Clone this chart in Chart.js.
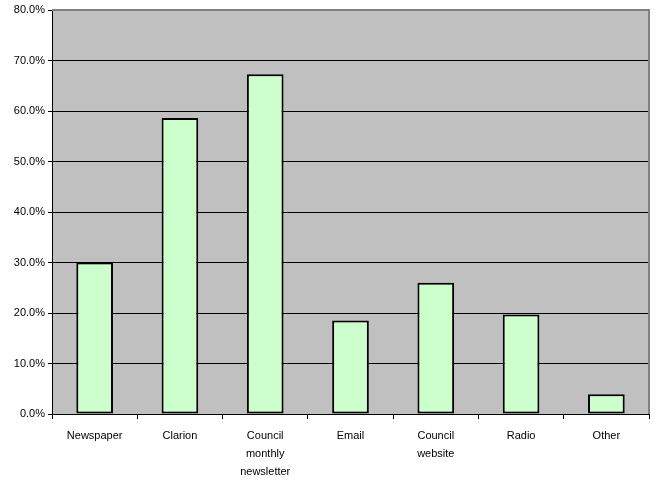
<!DOCTYPE html>
<html>
<head>
<meta charset="utf-8">
<script src="https://cdn.jsdelivr.net/npm/chart.js@4/dist/chart.umd.min.js"></script>
<style>
    html, body { margin: 0; padding: 0; background: #fff; }
    #wrap { width: 657px; height: 479px; }
</style>
</head>
<body>
<div id="wrap"><canvas id="chart"></canvas></div>
<script>
const categories = ["Newspaper", "Clarion", ["Council", "monthly", "newsletter"], "Email", ["Council", "website"], "Radio", "Other"];
const shares = [30.0, 58.6, 67.3, 18.5, 26.0, 19.7, 3.9];
const yTicks = [0, 10, 20, 30, 40, 50, 60, 70, 80];

// grey plot area with the darker top/right frame
const plotFrame = {
    id: "plotFrame",
    beforeDraw(chart) {
        const { ctx, chartArea: a } = chart;
        ctx.save();
        ctx.fillStyle = "#C0C0C0";
        ctx.fillRect(a.left, a.top, a.right - a.left, a.bottom - a.top);
        ctx.restore();
    },
    afterDatasetsDraw(chart) {
        const { ctx, chartArea: a } = chart;
        ctx.save();
        ctx.strokeStyle = "#808080";
        ctx.lineWidth = 2;
        ctx.beginPath();
        ctx.moveTo(a.left, a.top);
        ctx.lineTo(a.right, a.top);
        ctx.lineTo(a.right, a.bottom);
        ctx.stroke();
        ctx.restore();
    }
};

new Chart(document.getElementById("chart"), {
    type: "bar",
    data: {
        labels: categories,
        datasets: [{
            data: shares,
            backgroundColor: "#CCFFCC",
            borderColor: "#000",
            borderWidth: 2,
            borderSkipped: false,
            barPercentage: 1,
            categoryPercentage: 0.43
        }]
    },
    options: {
        responsive: true,
        maintainAspectRatio: false,
        animation: false,
        layout: { padding: { top: 10, right: 8, left: 0, bottom: 0 } },
        plugins: { legend: { display: false }, tooltip: { enabled: false } },
        scales: {
            x: {
                grid: { drawOnChartArea: false, drawTicks: true, tickLength: 5, tickColor: "#000", offset: true },
                border: { color: "#000", width: 1 },
                ticks: { color: "#000", font: { family: "Liberation Sans", size: 11, lineHeight: 1.65 }, padding: 8, maxRotation: 0, autoSkip: false },
                afterFit(scale) { scale.height = 65; }
            },
            y: {
                min: 0,
                max: 80,
                afterBuildTicks(scale) { scale.ticks = yTicks.map(v => ({ value: v })); },
                grid: {
                    color: ctx => ctx.tick && ctx.tick.value === 80 ? "#808080" : "#000",
                    tickColor: "#000",
                    tickLength: 4,
                    lineWidth: 1
                },
                border: { color: "#000", width: 1 },
                ticks: {
                    color: "#000",
                    padding: 3,
                    font: { family: "Liberation Sans", size: 11 },
                    callback: v => v.toFixed(1) + "%"
                },
                afterFit(scale) { scale.width = 52; }
            }
        }
    },
    plugins: [plotFrame]
});
</script>
</body>
</html>
